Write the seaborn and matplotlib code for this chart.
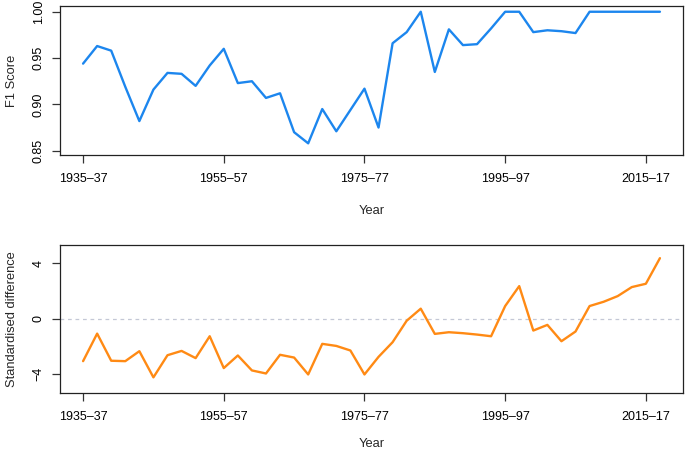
import numpy as np
import pandas as pd
import matplotlib
matplotlib.use("Agg")
import matplotlib.pyplot as plt
import seaborn as sns

# ============================
# Data
# ============================
start_years = list(range(1935, 2019, 2))
periods = [f"{y}\u2013{(y + 2) % 100:02d}" for y in start_years]

f1_score = [0.944, 0.963, 0.958, 0.919, 0.882, 0.916, 0.934, 0.933, 0.920, 0.942,
            0.960, 0.923, 0.925, 0.907, 0.912, 0.870, 0.858, 0.895, 0.871, 0.894,
            0.917, 0.875, 0.966, 0.978, 1.000, 0.935, 0.981, 0.964, 0.965, 0.982,
            1.000, 1.000, 0.978, 0.980, 0.979, 0.977, 1.000, 1.000, 1.000, 1.000,
            1.000, 1.000]

std_diff = [-3.07, -1.08, -3.04, -3.07, -2.35, -4.24, -2.64, -2.33, -2.85, -1.27,
            -3.57, -2.66, -3.74, -3.96, -2.61, -2.81, -4.03, -1.82, -1.97, -2.30,
            -4.03, -2.76, -1.70, -0.15, 0.72, -1.10, -0.98, -1.05, -1.15, -1.27,
            0.91, 2.35, -0.86, -0.45, -1.63, -0.93, 0.91, 1.22, 1.63, 2.28,
            2.52, 4.37]

tick_idx = [0, 10, 20, 30, 40]

df = pd.DataFrame({"idx": np.arange(len(periods)), "period": periods,
                   "f1": f1_score, "diff": std_diff})

# ============================
# Plot
# ============================
sns.set_style("white")
plt.rcParams["font.family"] = ["Liberation Sans", "DejaVu Sans"]
plt.rcParams["font.size"] = 9

W, H = 685, 453
fig = plt.figure(figsize=(W / 100, H / 100), dpi=100)


def px_axes(left, top, right, bottom):
    return fig.add_axes([left / W, 1 - bottom / H, (right - left) / W, (bottom - top) / H])


ax1 = px_axes(60, 6, 683, 155)
ax2 = px_axes(60, 245, 683, 393)

sns.lineplot(data=df, x="idx", y="f1", ax=ax1, color="#1C86EE", lw=1.7)
ax2.axhline(0, color="#C4C8D6", lw=0.9, ls=(0, (3, 3)), zorder=0)
sns.lineplot(data=df, x="idx", y="diff", ax=ax2, color="#FF8A14", lw=1.7)

ax1.set_ylim(0.8454, 1.0062)
ax1.set_yticks([0.85, 0.90, 0.95, 1.00])
ax1.set_yticklabels(["0.85", "0.90", "0.95", "1.00"])
ax1.set_ylabel("F1 Score", fontsize=9.3)

ax2.set_ylim(-5.37, 5.32)
ax2.set_yticks([-4, 0, 4])
ax2.set_yticklabels(["\u22124", "0", "4"])
ax2.set_ylabel("Standardised difference", fontsize=9.3)

for ax in (ax1, ax2):
    ax.set_xlim(-1.64, len(periods) - 1 + 1.64)
    ax.set_xticks(tick_idx)
    ax.set_xticklabels([periods[i] for i in tick_idx])
    ax.set_xlabel("Year", fontsize=9.3)
    ax.tick_params(axis="both", direction="out", length=6, width=0.9,
                   color="#333333", labelsize=9, labelcolor="black",
                   bottom=True, left=True)
    ax.tick_params(axis="x", pad=7)
    ax.tick_params(axis="y", pad=5, labelrotation=90)
    for lab in ax.get_yticklabels():
        lab.set_va("center")
    for sp in ax.spines.values():
        sp.set_visible(True)
        sp.set_color("#222222")
        sp.set_linewidth(0.9)
    ax.yaxis.set_label_coords(-0.077, 0.5)
    ax.yaxis.label.set_va("center")
    ax.xaxis.label.set_va("center")

ax1.xaxis.set_label_coords(0.5, (155 - 211) / 149)
ax2.xaxis.set_label_coords(0.5, (393 - 444) / 148)

fig.savefig("out.png", dpi=100)
